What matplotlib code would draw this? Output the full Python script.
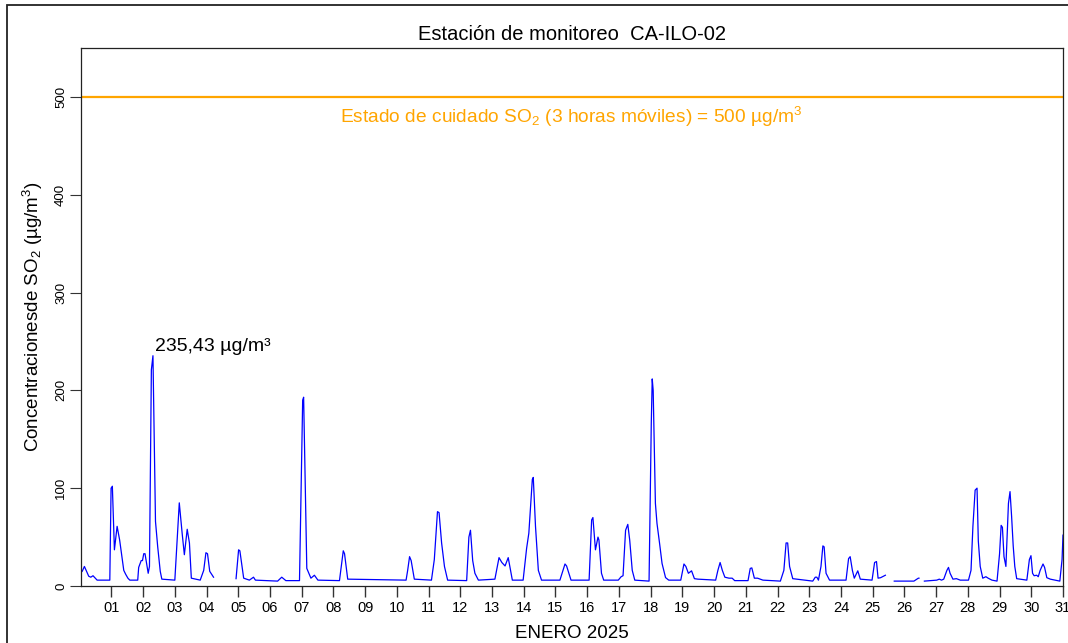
import numpy as np
import matplotlib
matplotlib.use("Agg")
import matplotlib.pyplot as plt
from matplotlib.patches import Rectangle

plt.rcParams['font.family'] = ['Liberation Sans', 'DejaVu Sans']
plt.rcParams['mathtext.fontset'] = 'custom'
plt.rcParams['mathtext.rm'] = 'Liberation Sans'
plt.rcParams['mathtext.it'] = 'Liberation Sans:italic'
plt.rcParams['mathtext.bf'] = 'Liberation Sans:bold'

# ---- data (x in days of January 2025, y in ug/m3; nan = missing) ----
nan = float('nan')
days = [0.042, 0.08, 0.149, 0.285, 0.35, 0.42, 0.55, 0.90, 0.95, 0.99, 1.03, 1.095, 1.18, 1.26,
        1.39, 1.45, 1.52, 1.58, 1.83, 1.86, 1.94, 1.98, 2.02, 2.06, 2.16, 2.20, 2.26, 2.31,
        2.39, 2.46, 2.54, 2.59, 3.00, 3.14, 3.23, 3.30, 3.39, 3.46, 3.52, 3.80, 3.91, 3.98,
        4.03, 4.10, 4.22, 4.50, 4.93, 5.01, 5.05, 5.17, 5.35, 5.48, 5.54, 6.24, 6.37, 6.50,
        6.93, 7.03, 7.06, 7.11, 7.16, 7.29, 7.40, 7.51, 8.19, 8.31, 8.35, 8.45, 10.29, 10.34,
        10.40, 10.45, 10.55, 11.09, 11.18, 11.28, 11.33, 11.41, 11.50, 11.60, 12.20, 12.27,
        12.32, 12.39, 12.46, 12.57, 13.09, 13.22, 13.31, 13.41, 13.51, 13.56, 13.64, 13.98,
        14.09, 14.16, 14.27, 14.30, 14.37, 14.46, 14.56, 15.14, 15.30, 15.35, 15.49, 16.06,
        16.14, 16.18, 16.26, 16.34, 16.37, 16.45, 16.52, 16.98, 17.07, 17.13, 17.21, 17.28,
        17.34, 17.42, 17.50, 17.95, 18.02, 18.05, 18.08, 18.15, 18.20, 18.28, 18.36, 18.47,
        18.57, 18.95, 19.05, 19.11, 19.19, 19.29, 19.38, 19.49, 20.05, 20.12, 20.19, 20.26,
        20.34, 20.47, 20.57, 20.65, 21.07, 21.14, 21.19, 21.27, 21.37, 21.54, 22.09, 22.20,
        22.27, 22.32, 22.38, 22.48, 23.11, 23.19, 23.24, 23.29, 23.37, 23.43, 23.47, 23.53,
        23.64, 24.16, 24.24, 24.29, 24.36, 24.42, 24.53, 24.61, 24.98, 25.06, 25.12, 25.17,
        25.25, 25.40, 25.50, 25.68, 26.30, 26.44, 26.46, 26.55, 26.63, 27.02, 27.10, 27.17,
        27.24, 27.34, 27.39, 27.44, 27.53, 27.64, 27.76, 28.02, 28.10, 28.16, 28.23, 28.29,
        28.33, 28.39, 28.47, 28.57, 28.64, 28.76, 28.92, 29.00, 29.05, 29.09, 29.14, 29.20,
        29.28, 29.33, 29.38, 29.43, 29.48, 29.54, 29.86, 29.94, 29.99, 30.04, 30.09, 30.17,
        30.22, 30.28, 30.37, 30.42, 30.49, 30.60, 30.90, 30.97, 31.00]
so2 = [14, 15, 20, 10, 9, 10.5, 6, 6, 6, 100, 102, 37, 61, 47,
       16, 12, 8, 6, 6, 19, 26, 26, 33, 33, 13, 20, 221, 235.43,
       66, 40, 15, 7, 6, 85, 54, 32, 58, 44, 8, 6, 16, 34,
       33, 15, 9, nan, 7.5, 37, 36, 8, 6, 9, 6, 5, 9, 5.5,
       5.5, 190, 193, 108, 18, 8, 11, 6, 5.5, 36, 33, 7, 6, 16,
       30, 26, 7, 6, 27, 76, 75, 44, 20, 6, 5.5, 50,
       57, 26, 13, 6, 7, 29, 24, 20.5, 29, 20, 6, 6,
       38.5, 54, 109, 111, 61, 16, 6, 6, 22.5, 20.5, 6, 6,
       67.5, 70, 37, 50, 47, 13, 6, 6, 9.5, 10.5, 57, 63,
       47, 16, 6, 5, 166, 211.7, 200, 84.5, 64, 44, 23, 8.6,
       6, 6, 22.5, 20, 13, 15.5, 7.5, 7, 6, 16, 24, 16,
       9, 8, 8, 5.5, 5.5, 18, 18.5, 8, 8, 6, 5, 16,
       44, 44, 20, 7.5, 5, 9, 9, 6, 20, 41, 40, 13,
       6, 6, 28, 30, 16, 8, 15.5, 7, 6, 24, 25, 8,
       8.5, 11, nan, 5, 5, 8, 8, nan, 5, 6, 7, 6,
       7, 16, 19, 13, 7, 7.5, 6, 6, 16, 61, 98, 100,
       46, 20, 8, 9.5, 8, 6, 5, 33, 62, 60, 30, 20,
       84.5, 96.5, 71, 41, 20, 7.5, 6, 27, 31, 13, 10.5, 11,
       9.5, 16, 22.5, 19, 8.5, 7, 5, 27, 52]
tick_days = list(range(1, 32))
tick_labels = [f"{d:02d}" for d in tick_days]
limit_value = 500
title = "Estación de monitoreo  CA-ILO-02"
xlabel = "ENERO 2025"
ylabel = r"Concentracionesde SO$_2$ (µg/m$^3$)"
limit_text = r"Estado de cuidado SO$_2$ (3 horas móviles) = 500 µg/m$^3$"

# ---- figure ----
W, H = 1068, 643
fig = plt.figure(figsize=(W / 100, H / 100), dpi=100)
fig.patch.set_facecolor('white')
fig.patches.append(Rectangle((7 / W, -0.2), 1.5, 1.2 - 5 / H, transform=fig.transFigure,
                             fill=False, edgecolor='#222222', linewidth=1.3))

ax = fig.add_axes([81 / W, 1 - 586 / H, (1063 - 81) / W, (586 - 48) / H])
ax.plot(days, so2, color='#0000FF', linewidth=0.9)
ax.axhline(limit_value, color='#FFA500', linewidth=1.6)

ax.set_xlim(1 / 24, 31)
ax.set_ylim(0, 550)

ax.set_xticks(tick_days)
ax.set_xticklabels(tick_labels, fontsize=10.5)
ax.set_yticks([0, 100, 200, 300, 400, 500])
ax.set_yticklabels(['0', '100', '200', '300', '400', '500'], fontsize=9.5, rotation=90, va='center')
ax.tick_params(axis='x', length=8, width=1, color='#333333', pad=3)
ax.tick_params(axis='y', length=8, width=0.8, color='#333333', pad=2)

for s in ax.spines.values():
    s.set_linewidth(0.9)
    s.set_color('#222222')

ax.set_title(title, fontsize=14.5, pad=6)
ax.set_xlabel(xlabel, fontsize=13.5, labelpad=7)
ax.set_ylabel(ylabel, fontsize=13.5, labelpad=7)

ax.text(15.5, limit_value - 8, limit_text, color='#FFA500', fontsize=13.8, ha='center', va='top')

imax = int(np.nanargmax(np.array(so2, dtype=float)))
ax.text(days[imax] + 0.05, so2[imax] + 0.5, "235,43 µg/m³", fontsize=14, ha='left', va='bottom')

fig.savefig("out.png", dpi=100)
